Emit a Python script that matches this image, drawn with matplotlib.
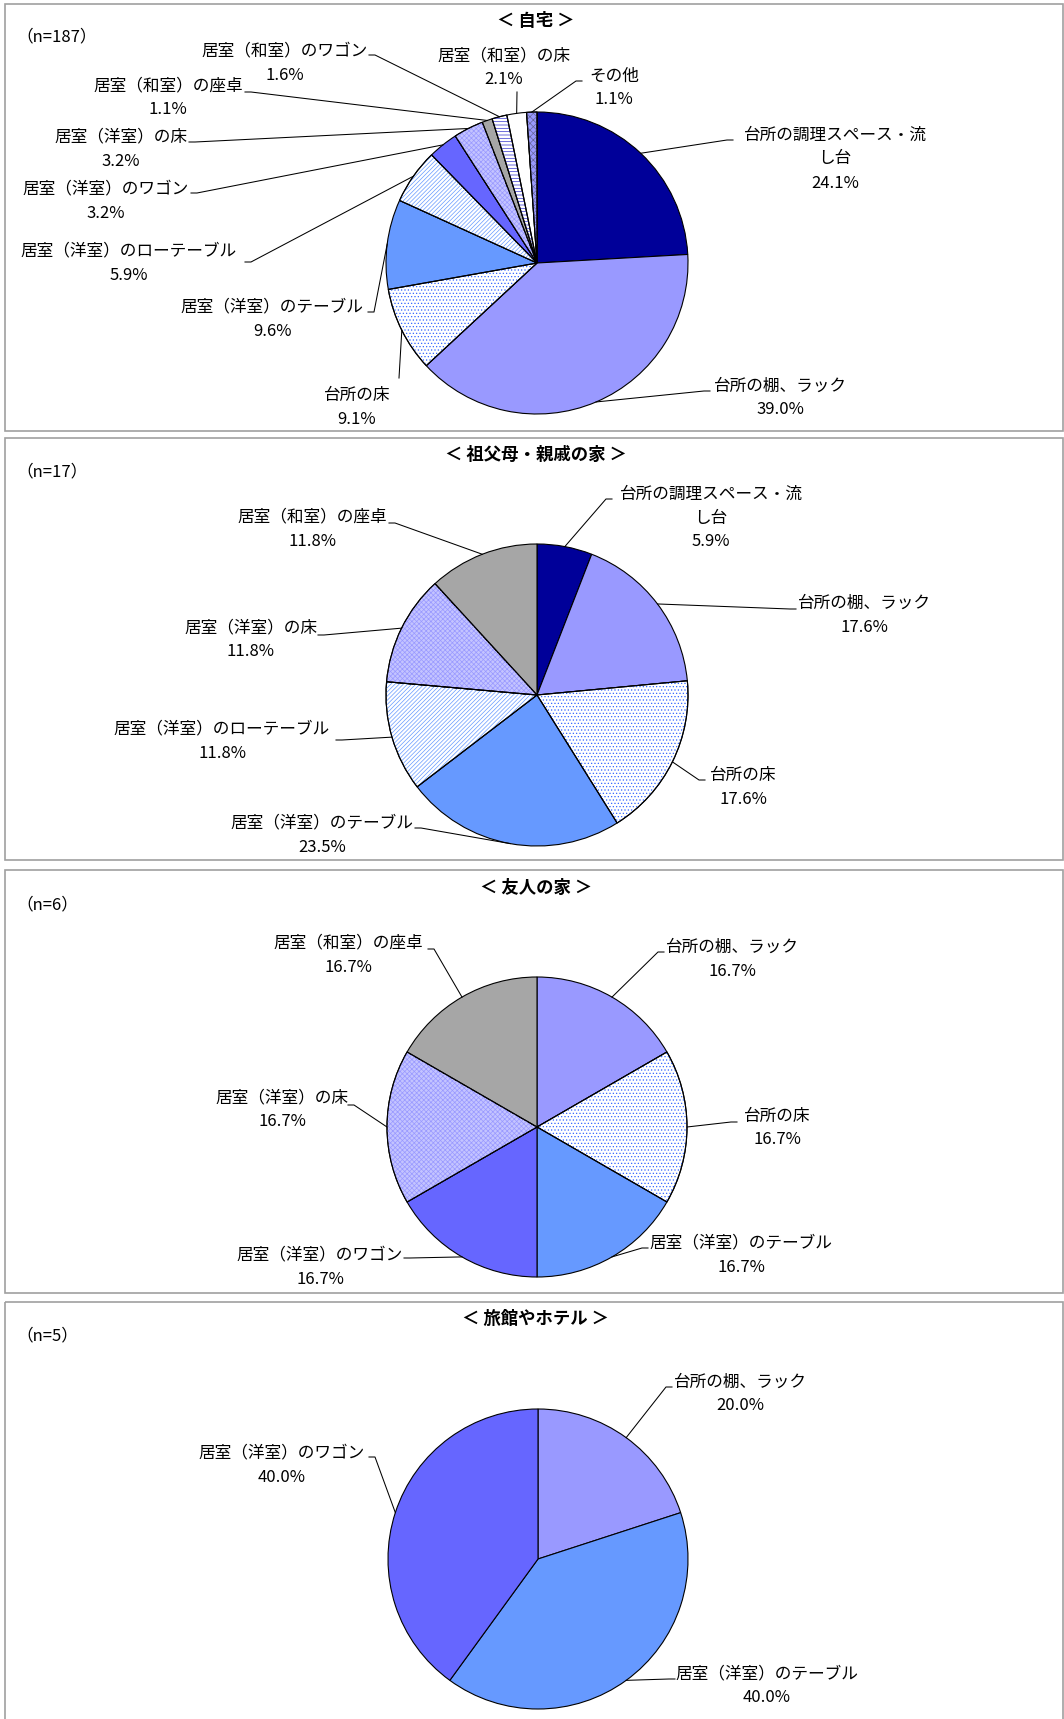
import numpy as np
import matplotlib
matplotlib.use('Agg')
import matplotlib.pyplot as plt
from matplotlib.patches import Wedge, Rectangle

plt.rcParams['font.family'] = ['Noto Sans CJK JP', 'DejaVu Sans']
plt.rcParams['hatch.linewidth'] = 0.5

# ---- data ----
home_title = '＜ 自宅 ＞'
home_n = '（n=187）'
home_labels = ['台所の調理スペース・流し台', '台所の棚、ラック', '台所の床', '居室（洋室）のテーブル',
               '居室（洋室）のローテーブル', '居室（洋室）のワゴン', '居室（洋室）の床', '居室（和室）の座卓',
               '居室（和室）のワゴン', '居室（和室）の床', 'その他']
home_values = [24.1, 39.0, 9.1, 9.6, 5.9, 3.2, 3.2, 1.1, 1.6, 2.1, 1.1]

relative_title = '＜ 祖父母・親戚の家 ＞'
relative_n = '（n=17）'
relative_labels = ['台所の調理スペース・流し台', '台所の棚、ラック', '台所の床', '居室（洋室）のテーブル',
                   '居室（洋室）のローテーブル', '居室（洋室）の床', '居室（和室）の座卓']
relative_values = [5.9, 17.6, 17.6, 23.5, 11.8, 11.8, 11.8]

friend_title = '＜ 友人の家 ＞'
friend_n = '（n=6）'
friend_labels = ['台所の棚、ラック', '台所の床', '居室（洋室）のテーブル', '居室（洋室）のワゴン',
                 '居室（洋室）の床', '居室（和室）の座卓']
friend_values = [16.7, 16.7, 16.7, 16.7, 16.7, 16.7]

hotel_title = '＜ 旅館やホテル ＞'
hotel_n = '（n=5）'
hotel_labels = ['台所の棚、ラック', '居室（洋室）のテーブル', '居室（洋室）のワゴン']
hotel_values = [20.0, 40.0, 40.0]

# ---- styles: facecolor, hatch, hatch colour ----
STYLE = {
    '台所の調理スペース・流し台': ('#000099', None, None),
    '台所の棚、ラック': ('#9999FF', None, None),
    '台所の床': ('#FFFFFF', '.....', '#3366FF'),
    '居室（洋室）のテーブル': ('#6699FF', None, None),
    '居室（洋室）のローテーブル': ('#FFFFFF', '////////', '#6699FF'),
    '居室（洋室）のワゴン': ('#6666FF', None, None),
    '居室（洋室）の床': ('#C4C4FF', 'xxxxxxx', '#9999FF'),
    '居室（和室）の座卓': ('#A6A6A6', None, None),
    '居室（和室）のワゴン': ('#FFFFFF', '-----', '#3333CC'),
    '居室（和室）の床': ('#FFFFFF', None, None),
    'その他': ('#9999FF', 'xxxxx', '#666699'),
}
WRAP = {'台所の調理スペース・流し台': '台所の調理スペース・流\nし台'}

# ---- layout (pixels, y from top) ----
W, H = 1064, 1719
FS = 12
panels = [
    dict(title=home_title, n=home_n, labels=home_labels, values=home_values,
         box=(5, 4, 1063, 431), title_y=21, n_y=37, center=(537, 263), r=151,
         # label centre x, first-line y, leader anchor x, y, side
         lab=[(835, 135, 733, 140, 1), (780, 386, 710, 391, 1), (357, 395, 399, 378, 0),
              (272, 307, 368, 312, -1), (129, 251, 245, 262, -1), (106, 189, 191, 193, -1),
              (121, 137, 189, 142, -1), (168, 86, 245, 92, -1), (285, 51, 369, 55, -1),
              (504, 56, 517, 92, 0), (614, 76, 582, 81, 1)]),
    dict(title=relative_title, n=relative_n, labels=relative_labels, values=relative_values,
         box=(5, 438, 1063, 860), title_y=455, n_y=472, center=(537, 695), r=151,
         lab=[(711, 494, 612, 499, 1), (864, 603, 796, 609, 1), (743, 775, 705, 780, 1),
              (322, 823, 415, 828, -1), (222, 729, 336, 740, -1), (251, 628, 318, 635, -1),
              (312, 517, 389, 523, -1)]),
    dict(title=friend_title, n=friend_n, labels=friend_labels, values=friend_values,
         box=(5, 870, 1063, 1293), title_y=888, n_y=905, center=(537, 1127), r=150,
         lab=[(732, 947, 664, 952, 1), (777, 1116, 737, 1122, 1), (741, 1243, 648, 1248, 1),
              (320, 1255, 404, 1258, -1), (282, 1098, 348, 1105, -1), (348, 943, 428, 949, -1)]),
    dict(title=hotel_title, n=hotel_n, labels=hotel_labels, values=hotel_values,
         box=(5, 1302, 1063, 1730), title_y=1319, n_y=1336, center=(538, 1559), r=150,
         lab=[(740, 1382, 672, 1387, 1), (767, 1674, 675, 1679, 1), (282, 1453, 369, 1457, -1)]),
]

fig = plt.figure(figsize=(W / 100, H / 100), dpi=100)
ax = fig.add_axes([0, 0, 1, 1])

for p in panels:
    x0, y0, x1, y1 = p['box']
    ax.add_patch(Rectangle((x0, y0), x1 - x0, y1 - y0, fill=False, edgecolor='#A0A0A0', linewidth=1.2))
    ax.text(W / 2 + 4, p['title_y'], p['title'], ha='center', va='center', fontsize=FS + 0.5, fontweight='bold')
    ax.text(16, p['n_y'], p['n'], ha='left', va='center', fontsize=FS)

    cx, cy = p['center']
    r = p['r']
    colors = [STYLE[l][0] for l in p['labels']]
    wedges, _ = ax.pie(p['values'], colors=colors, startangle=270, counterclock=True,
                       center=(cx, cy), radius=r,
                       wedgeprops=dict(edgecolor='black', linewidth=0.8))
    for w, l in zip(wedges, p['labels']):
        fc, hatch, hc = STYLE[l]
        if hatch:
            ax.add_patch(Wedge((cx, cy), r, w.theta1, w.theta2, facecolor='none',
                               edgecolor=hc, linewidth=0, hatch=hatch, zorder=w.get_zorder() + 0.1))
            ax.add_patch(Wedge((cx, cy), r, w.theta1, w.theta2, facecolor='none',
                               edgecolor='black', linewidth=0.8, zorder=w.get_zorder() + 0.2))

    for w, l, v, (lx, ly, axx, ayy, side) in zip(wedges, p['labels'], p['values'], p['lab']):
        th = np.deg2rad((w.theta1 + w.theta2) / 2)
        px, py = cx + r * np.cos(th), cy + r * np.sin(th)
        if side:
            xs = [px, axx - side * 6, axx]
            ys = [py, ayy, ayy]
        else:
            xs = [px, axx]
            ys = [py, ayy]
        ax.plot(xs, ys, color='black', linewidth=0.75, zorder=5)
        lines = WRAP.get(l, l).split('\n') + ['%.1f%%' % v]
        for i, s in enumerate(lines):
            ax.text(lx, ly + i * 24, s, ha='center', va='center', fontsize=FS, zorder=6)

ax.set_xlim(0, W)
ax.set_ylim(H, 0)
ax.set_aspect('equal')
ax.axis('off')

fig.savefig('out.png', dpi=100)
